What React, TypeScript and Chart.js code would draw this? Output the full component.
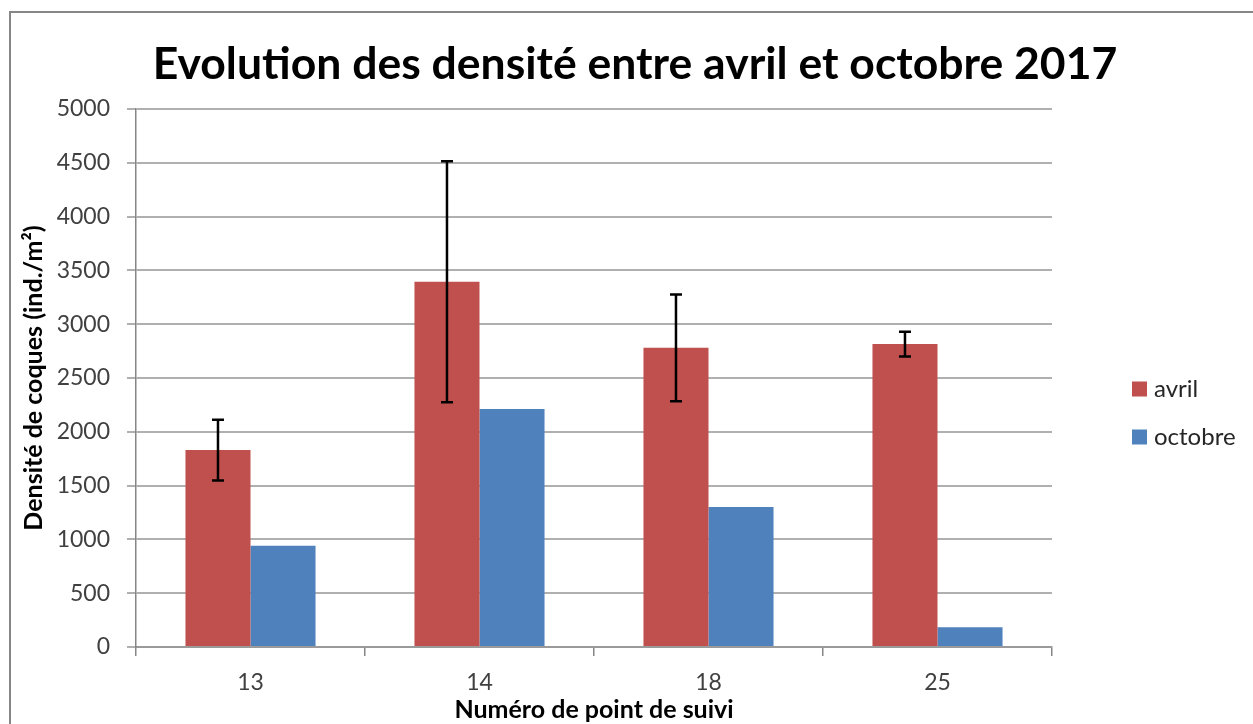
import React, { useEffect, useRef } from "react";
import { Chart, registerables } from "chart.js";

Chart.register(...registerables);

const categories = ["13", "14", "18", "25"];
const avril = [1830, 3395, 2780, 2815];
const avrilErr = [282, 1120, 495, 115];
const octobre = [940, 2212, 1300, 183];
const seriesLabels = ["avril", "octobre"];
const seriesColors = ["#C0504D", "#4F81BD"];
const yTicks = [0, 500, 1000, 1500, 2000, 2500, 3000, 3500, 4000, 4500, 5000];

const FONT = "Lato, 'Open Sans', sans-serif";

const frameAndExtras = {
  id: "frameAndExtras",
  beforeDraw(chart: any) {
    const ctx = chart.ctx;
    ctx.save();
    ctx.fillStyle = "#ffffff";
    ctx.fillRect(0, 0, chart.width, chart.height);
    ctx.strokeStyle = "#868686";
    ctx.lineWidth = 2;
    ctx.strokeRect(10, 12, chart.width + 20, chart.height + 20);
    ctx.restore();
  },
  afterDatasetsDraw(chart: any) {
    const ctx = chart.ctx;
    const yScale = chart.scales.y;
    const meta = chart.getDatasetMeta(0);
    ctx.save();
    ctx.strokeStyle = "#000000";
    ctx.lineWidth = 2.5;
    meta.data.forEach((bar: any, i: number) => {
      const x = bar.x;
      const yHi = yScale.getPixelForValue(avril[i] + avrilErr[i]);
      const yLo = yScale.getPixelForValue(avril[i] - avrilErr[i]);
      const cap = 6;
      ctx.beginPath();
      ctx.moveTo(x, yHi);
      ctx.lineTo(x, yLo);
      ctx.moveTo(x - cap, yHi);
      ctx.lineTo(x + cap, yHi);
      ctx.moveTo(x - cap, yLo);
      ctx.lineTo(x + cap, yLo);
      ctx.stroke();
    });
    ctx.restore();
  },
  afterDraw(chart: any) {
    const ctx = chart.ctx;
    const area = chart.chartArea;
    ctx.save();
    const xBox = area.right + 80;
    const yStart = 389;
    const step = 48;
    chart.data.datasets.forEach((ds: any, i: number) => {
      const cy = yStart + i * step;
      ctx.fillStyle = ds.backgroundColor;
      ctx.fillRect(xBox, cy - 7.5, 15, 15);
      ctx.fillStyle = "#262626";
      ctx.font = `24px ${FONT}`;
      ctx.textBaseline = "middle";
      ctx.textAlign = "left";
      ctx.fillText(ds.label, xBox + 22, cy);
    });
    ctx.restore();
  },
};

export default function App() {
  const ref = useRef<HTMLCanvasElement>(null);
  useEffect(() => {
    document.body.style.margin = "0";
    if (!ref.current) return;
    const chart = new Chart(ref.current, {
      type: "bar",
      data: {
        labels: categories,
        datasets: [
          {
            label: seriesLabels[0],
            data: avril,
            backgroundColor: seriesColors[0],
            borderWidth: 0,
            categoryPercentage: 0.568,
            barPercentage: 1,
          },
          {
            label: seriesLabels[1],
            data: octobre,
            backgroundColor: seriesColors[1],
            borderWidth: 0,
            categoryPercentage: 0.568,
            barPercentage: 1,
          },
        ],
      },
      options: {
        responsive: false,
        animation: false,
        devicePixelRatio: 1,
        layout: { padding: { left: 17, right: 0, top: 0, bottom: 0 } },
        plugins: {
          legend: { display: false },
          tooltip: { enabled: false },
          title: {
            display: true,
            text: "Evolution des densité entre avril et octobre 2017",
            color: "#000000",
            font: { family: FONT, size: 44.5, weight: "bold", lineHeight: 1.2 },
            padding: { top: 38.3, bottom: 17.3 },
          },
        },
        scales: {
          x: {
            offset: true,
            grid: {
              offset: true,
              drawOnChartArea: false,
              drawTicks: true,
              tickLength: 9,
              color: "#868686",
              lineWidth: 1.5,
            },
            border: { display: true, color: "#9a9a9a", width: 2 },
            ticks: {
              color: "#404040",
              font: { family: FONT, size: 23 },
              padding: 13,
            },
            title: {
              display: true,
              text: "Numéro de point de suivi",
              color: "#000000",
              font: { family: FONT, size: 25, weight: "bold", lineHeight: 1.2 },
              padding: { top: 0, bottom: -1 },
            },
            afterFit: (s: any) => {
              s.height = 77;
            },
          },
          y: {
            min: 0,
            max: 5000,
            afterBuildTicks: (s: any) => {
              s.ticks = yTicks.map((v) => ({ value: v }));
            },
            grid: {
              color: "#b0b0b0",
              lineWidth: 2,
              tickLength: 9,
              drawTicks: true,
            },
            border: { display: true, color: "#868686", width: 1.5 },
            ticks: {
              color: "#404040",
              font: { family: FONT, size: 23 },
              padding: 17,
              callback: (v: any) => String(v),
            },
            title: {
              display: true,
              text: "Densité de coques (ind./m²)",
              color: "#000000",
              font: { family: FONT, size: 25, weight: "bold", lineHeight: 1.2 },
              padding: { top: 2, bottom: 0 },
            },
            afterFit: (s: any) => {
              s.width = 119;
            },
          },
          spacer: {
            type: "linear",
            position: "right",
            display: true,
            grid: { display: false },
            border: { display: false },
            ticks: { display: false },
            afterFit: (s: any) => {
              s.width = 201;
            },
          },
        },
      } as any,
      plugins: [frameAndExtras],
    });
    return () => chart.destroy();
  }, []);
  return (
    <div style={{ width: 1253, height: 724 }}>
      <canvas ref={ref} width={1253} height={724} style={{ display: "block" }} />
    </div>
  );
}
